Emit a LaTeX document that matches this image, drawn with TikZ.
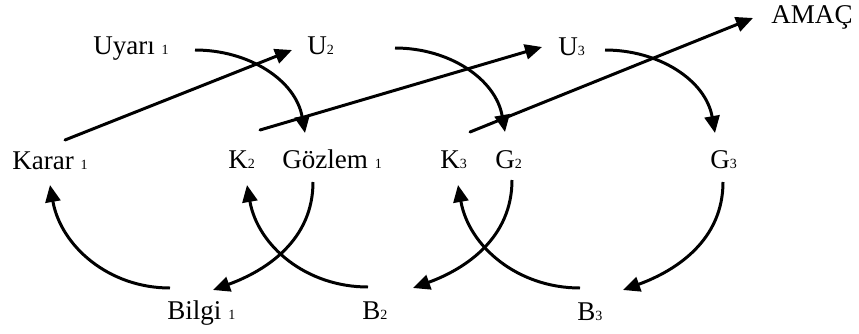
\documentclass[tikz,border=0pt]{standalone}
\usepackage{fontspec}
\setmainfont{Liberation Serif}
\usepackage{tikz}
\usetikzlibrary{calc, arrows.meta}
\usepackage{tkz-euclide}
\usepackage{xcolor}
\newcommand{\idx}[1]{{\fontsize{8}{9}\selectfont #1}}

\begin{document}
\begin{tikzpicture}[font=\fontsize{15.4}{18}\selectfont,
        lbl/.style={anchor=base west, inner sep=0pt},
        flow/.style={black, line width=1.7pt, -{Triangle[length=0.34cm, width=0.3cm]}}]
        \useasboundingbox (0,0) rectangle (17.18,6.66);
        \node[lbl] (uyari)  at (1.86,5.58)  {Uyarı \idx{1}};
        \node[lbl] (u2)     at (6.14,5.58)  {U\idx{2}};
        \node[lbl] (u3)     at (11.16,5.56) {U\idx{3}};
        \node[lbl] (amac)   at (15.42,6.20) {AMAÇ};
        \node[lbl] (karar)  at (0.24,3.28)  {Karar \idx{1}};
        \node[lbl] (k2)     at (4.56,3.30)  {K\idx{2}};
        \node[lbl] (gozlem) at (5.64,3.30)  {Gözlem \idx{1}};
        \node[lbl] (k3)     at (8.80,3.30)  {K\idx{3}};
        \node[lbl] (g2)     at (9.90,3.30)  {G\idx{2}};
        \node[lbl] (g3)     at (14.20,3.30) {G\idx{3}};
        \node[lbl] (bilgi)  at (3.34,0.28)  {Bilgi \idx{1}};
        \node[lbl] (b2)     at (7.24,0.28)  {B\idx{2}};
        \node[lbl] (b3)     at (11.54,0.26) {B\idx{3}};
        \tkzDefPoints{1.30/3.86/Ka, 5.84/5.66/Ub, 5.20/4.06/Kb, 10.84/5.72/Uc,
                9.40/4.02/Kc, 15.06/6.30/Am}
        \tkzDefPoints{3.90/5.66/Uy, 6.10/4.00/Go, 7.90/5.70/Ux, 10.10/4.02/Gb,
                12.10/5.66/Uz, 14.30/4.00/Gc}
        \tkzDefPoints{6.26/3.02/Gs, 4.26/0.86/Bi, 7.36/0.92/Bb, 4.94/2.96/Kt,
                3.40/0.90/Bs, 1.00/2.96/Kr}
        \tkzDefPoints{10.24/3.06/Gt, 8.26/0.90/Bt, 11.60/0.90/Bc, 9.16/2.96/Ku,
                14.46/3.02/Gu, 12.46/0.86/Bu}
        \tkzDrawSegments[flow](Ka,Ub Kb,Uc Kc,Am)
        \draw[flow] (Uy) to[out=0, in=100] (Go);
        \draw[flow] (Ux) to[out=0, in=100] (Gb);
        \draw[flow] (Uz) to[out=0, in=100] (Gc);
        \draw[flow] (Gs) to[out=-90, in=20] (Bi);
        \draw[flow] (Gt) to[out=-90, in=20] (Bt);
        \draw[flow] (Gu) to[out=-90, in=20] (Bu);
        \draw[flow] (Bs) to[out=180, in=-80] (Kr);
        \draw[flow] (Bb) to[out=180, in=-80] (Kt);
        \draw[flow] (Bc) to[out=180, in=-80] (Ku);
\end{tikzpicture}
\end{document}
